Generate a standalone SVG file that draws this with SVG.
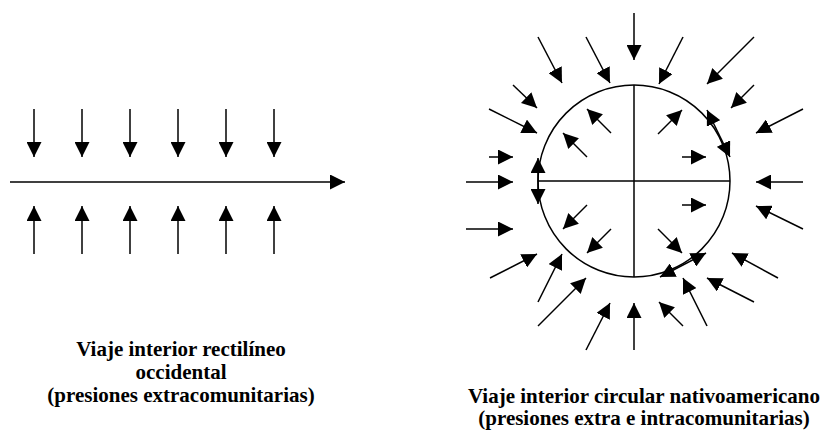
<svg xmlns="http://www.w3.org/2000/svg" width="828" height="433" viewBox="0 0 828 433">
  <style>
    .ln { stroke: #000; stroke-width: 1.5; fill: none; }
    .ar { stroke: #000; stroke-width: 1.5; fill: none; marker-end: url(#head); }
    .dbl { stroke: #000; stroke-width: 1.5; fill: none; marker-end: url(#head); marker-start: url(#headS); }
    .cap { font-family: "Liberation Serif", "Times New Roman", serif; font-weight: bold; font-size: 21px; fill: #000; text-anchor: middle; }
  </style>
  <defs>
    <marker id="head" viewBox="0 0 15 15" refX="15" refY="7.5" markerWidth="15" markerHeight="15" markerUnits="userSpaceOnUse" orient="auto">
      <path d="M0,0 L15,7.5 L0,15 Z" fill="#000"/>
    </marker>
    <marker id="headS" viewBox="0 0 15 15" refX="15" refY="7.5" markerWidth="15" markerHeight="15" markerUnits="userSpaceOnUse" orient="auto-start-reverse">
      <path d="M0,0 L15,7.5 L0,15 Z" fill="#000"/>
    </marker>
  </defs>
  <rect width="828" height="433" fill="#fff"/>

  <!-- Linear path with outside pressures -->
  <g id="linear">
    <line class="ar" x1="10" y1="182" x2="345" y2="182"/>
    <g id="linear-down">
      <line class="ar" x1="34" y1="109" x2="34" y2="157"/>
      <line class="ar" x1="82" y1="109" x2="82" y2="157"/>
      <line class="ar" x1="130" y1="109" x2="130" y2="157"/>
      <line class="ar" x1="178" y1="109" x2="178" y2="157"/>
      <line class="ar" x1="226" y1="109" x2="226" y2="157"/>
      <line class="ar" x1="274" y1="109" x2="274" y2="157"/>
    </g>
    <g id="linear-up">
      <line class="ar" x1="34" y1="254" x2="34" y2="206"/>
      <line class="ar" x1="82" y1="254" x2="82" y2="206"/>
      <line class="ar" x1="130" y1="254" x2="130" y2="206"/>
      <line class="ar" x1="178" y1="254" x2="178" y2="206"/>
      <line class="ar" x1="226" y1="254" x2="226" y2="206"/>
      <line class="ar" x1="274" y1="254" x2="274" y2="206"/>
    </g>
    <text class="cap" x="181" y="356">Viaje interior rectilíneo</text>
    <text class="cap" x="181" y="379">occidental</text>
    <text class="cap" x="181" y="402">(presiones extracomunitarias)</text>
  </g>

  <!-- Circular path with outside and inside pressures -->
  <g id="circle">
    <circle class="ln" cx="634" cy="181" r="96"/>
    <line class="ln" x1="538" y1="181" x2="730" y2="181"/>
    <line class="ln" x1="634" y1="85" x2="634" y2="277"/>
  </g>

  <g id="connectors">
    <!-- outer pressures -->
    <line class="ar" x1="538" y1="37" x2="562" y2="83"/>
    <line class="ar" x1="586" y1="37" x2="610" y2="83"/>
    <line class="ar" x1="634" y1="13" x2="634" y2="60"/>
    <line class="ar" x1="513" y1="85" x2="537" y2="108"/>
    <line class="ar" x1="489" y1="109" x2="537" y2="133"/>
    <line class="ar" x1="489" y1="157" x2="513" y2="157"/>
    <line class="ar" x1="466" y1="182" x2="513" y2="182"/>
    <line class="ar" x1="683" y1="37" x2="659" y2="84"/>
    <line class="ar" x1="754" y1="37" x2="707" y2="84"/>
    <line class="ar" x1="754" y1="85" x2="731" y2="108"/>
    <line class="ar" x1="803" y1="109" x2="756" y2="133"/>
    <line class="ar" x1="803" y1="182" x2="756" y2="182"/>
    <line class="ar" x1="466" y1="229" x2="513" y2="229"/>
    <line class="ar" x1="490" y1="278" x2="537" y2="254"/>
    <line class="ar" x1="538" y1="302" x2="562" y2="254"/>
    <line class="ar" x1="538" y1="326" x2="586" y2="278"/>
    <line class="ar" x1="586" y1="350" x2="610" y2="303"/>
    <line class="ar" x1="634" y1="350" x2="634" y2="303"/>
    <line class="ar" x1="803" y1="229" x2="756" y2="206"/>
    <line class="ar" x1="778" y1="278" x2="732" y2="253"/>
    <line class="ar" x1="754" y1="302" x2="707" y2="278"/>
    <line class="ar" x1="707" y1="326" x2="683" y2="278"/>
    <line class="ar" x1="683" y1="326" x2="659" y2="302"/>
    <!-- inner pressures -->
    <line class="ar" x1="611" y1="133" x2="587" y2="109"/>
    <line class="ar" x1="587" y1="157" x2="563" y2="133"/>
    <line class="ar" x1="658" y1="134" x2="682" y2="110"/>
    <line class="ar" x1="682" y1="157" x2="706" y2="157"/>
    <line class="ar" x1="682" y1="205" x2="706" y2="205"/>
    <line class="ar" x1="587" y1="205" x2="563" y2="229"/>
    <line class="ar" x1="611" y1="229" x2="587" y2="253"/>
    <line class="ar" x1="658" y1="229" x2="682" y2="253"/>
    <!-- two-way arrows on the rim -->
    <line class="dbl" x1="538" y1="158" x2="538" y2="204"/>
    <line class="dbl" x1="707" y1="110" x2="730" y2="157"/>
    <line class="dbl" x1="660" y1="277" x2="706" y2="253"/>
  </g>

  <g id="circle-caption">
    <text class="cap" x="644" y="403">Viaje interior circular nativoamericano</text>
    <text class="cap" x="644" y="425">(presiones extra e intracomunitarias)</text>
  </g>
</svg>
